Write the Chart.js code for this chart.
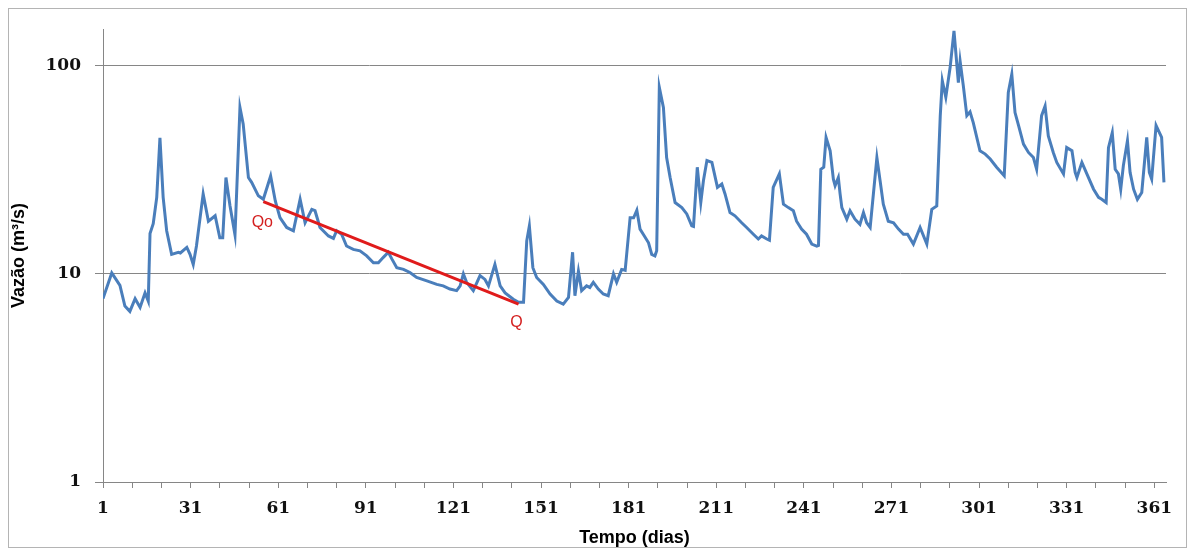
<!DOCTYPE html>
<html><head><meta charset="utf-8">
<script src="https://cdn.jsdelivr.net/npm/chart.js@4"></script>
<style>html,body{margin:0;padding:0;background:#fff}</style>
</head><body>
<canvas id="c" width="1195" height="549"></canvas>
<script>
const days = [1,4,6.8,8.5,10.2,12,13.7,15.4,16.5,17.1,18.2,19.4,20.5,21.6,22.8,24.5,26.8,27.5,29.7,30.8,31.9,33,35.3,37.1,39.4,41,42,43.1,44.5,46.2,47.9,49,50.8,51.9,54.2,55.9,58.4,60,61.6,63.9,66.2,68.5,70.2,72.5,73.6,75.3,78.2,79.9,81,82.7,84.4,86.7,89,91.3,93.6,95.3,97,98.7,99.9,101.6,103.9,106.1,108.4,111.9,115.3,117.5,119.8,122.1,123.3,124.4,125.5,127.8,130.1,131.8,133,135.2,137,138.7,141.5,143.3,145,146.1,147,148.2,149.5,151.8,154.1,156.4,158.6,160.4,161.8,162.6,163.8,164.9,166.6,167.7,168.9,170.6,172.3,174,175.8,176.9,178.6,179.8,181.5,182.7,183.8,184.9,186,187.8,188.9,190,190.6,191.5,192.9,194,195.2,196.9,199.2,200.9,202.6,203.2,204.5,205.7,206.6,207.8,209.5,211.4,212.9,214,215.7,217.4,219.7,221.4,223.7,225.4,226.5,228.3,229.2,230.5,232.6,234,235.7,237.4,238.5,240.2,241.9,243.7,245.4,246,246.8,247.8,248.6,250,251.1,251.7,252.8,253.4,254,255.7,256.8,258.5,260.2,261.4,262.5,263.7,266,267.1,268.2,269.9,271.7,273.4,275.1,276.5,278.5,280.8,283.1,284.8,286.5,287.7,288.4,289.6,291.1,292.4,293.9,294.5,295.6,296.8,297.9,299,301.3,303.1,304.8,307,309.6,311,312.2,313.3,314.5,316.2,317.9,319.6,320.7,322.4,323.6,324.7,326.4,327.6,329.9,331,332.8,333.9,334.5,336.2,337.9,340.2,341.9,343,344.5,345.3,346.6,347.6,348.7,349.5,350.4,351.8,352.7,353.9,355.2,356.7,358.4,359.3,360.1,361.6,363.5,364.3];
const flow = [7.6,10.1,8.8,7.0,6.6,7.6,6.9,8.1,7.4,15.6,17.4,23.3,45,23.3,16.1,12.4,12.7,12.6,13.4,12.4,11.1,13.6,24.2,17.9,19.0,14.9,14.9,29,21.2,15.4,63,52.5,29,27.5,23.7,22.8,29.5,22.4,18.6,16.7,16.1,22.8,17.6,20.4,20.1,16.7,15.2,14.8,16.1,15.5,13.6,13.1,12.9,12.2,11.3,11.3,12.0,12.7,11.8,10.7,10.5,10.15,9.6,9.25,8.9,8.75,8.45,8.3,8.75,10.0,9.1,8.3,9.8,9.4,8.75,11.1,8.75,8.1,7.55,7.3,7.3,14.4,17.0,10.7,9.6,8.9,8.0,7.4,7.15,7.7,12.7,7.85,10.3,8.3,8.75,8.6,9.1,8.45,8.0,7.85,10.0,9.1,10.5,10.4,18.6,18.6,20.2,16.4,15.5,14.1,12.4,12.2,12.9,78.7,63,36.2,29,22.0,20.8,19.4,17.0,16.9,32.5,22.0,28,35,34.3,26,27,24.2,19.7,19.0,17.6,16.7,15.5,14.7,15.2,14.7,14.5,26,30.2,21.6,20.8,20.1,17.9,16.4,15.5,13.9,13.6,13.7,31.8,32.5,45.2,39,28.5,26.5,29,24.2,20.8,18.3,20.1,18.3,17.3,19.7,17.6,16.7,36.2,28,21.6,17.9,17.6,16.4,15.5,15.5,13.9,16.7,13.9,20.4,21.2,57.5,84.6,70.5,98.7,147,83,105,80,57.5,60,53.3,39,37.6,35.6,32.5,29.6,74.4,91,59.5,51.6,42,38.3,36.2,31.8,57.5,64,46,38.3,34.3,30.2,40.4,39,30.7,29,34.3,30.2,25.5,23.3,22.8,22,40.4,47.7,31.8,30.2,25.5,33.1,43.6,30.7,25.5,22.8,24.6,45.2,30.7,28.5,51.6,45.2,27.5];
const recessionDays = [55.9, 143.3];
const recessionFlow = [22.2, 7.15];
const recessionLabels = ['Qo', 'Q'];
const xTickValues = [1,11,21,31,41,51,61,71,81,91,101,111,121,131,141,151,161,171,181,191,201,211,221,231,241,251,261,271,281,291,301,311,321,331,341,351,361];
const xLabelValues = [1,31,61,91,121,151,181,211,241,271,301,331,361];
const yTickValues = [1,10,100];
const yTitle = 'Vazão (m³/s)';
const xTitle = 'Tempo (dias)';

const mainPoints = days.map((d,i)=>({x:d, y:flow[i]}));
const recPoints = recessionDays.map((d,i)=>({x:d, y:recessionFlow[i]}));

const framePlugin = {
  id:'frame',
  beforeDraw(chart){
    const ctx = chart.ctx;
    ctx.save();
    ctx.fillStyle = '#fff';
    ctx.fillRect(0,0,chart.width,chart.height);
    ctx.strokeStyle = '#b4b4b4';
    ctx.lineWidth = 1;
    ctx.strokeRect(8.5,8.5,chart.width-17,chart.height-10);
    ctx.restore();
  }
};
const labelOffsets = [{dx:-1,dy:21},{dx:-2,dy:18}];
const qLabelPlugin = {
  id:'qlabels',
  afterDatasetsDraw(chart){
    const ctx = chart.ctx;
    const meta = chart.getDatasetMeta(1);
    ctx.save();
    ctx.fillStyle = '#d42020';
    ctx.font = '16px "Liberation Sans", sans-serif';
    ctx.textAlign = 'center';
    ctx.textBaseline = 'middle';
    meta.data.forEach((pt,i)=>{
      ctx.fillText(recessionLabels[i], pt.x + labelOffsets[i].dx, pt.y + labelOffsets[i].dy);
    });
    ctx.restore();
  }
};

new Chart(document.getElementById('c'), {
  type:'line',
  data:{
    datasets:[
      {data: mainPoints, borderColor:'#4a7ebb', borderWidth:3, pointRadius:0, tension:0, fill:false, order:2},
      {data: recPoints, borderColor:'#e01b1b', borderWidth:3, pointRadius:0, tension:0, fill:false, order:1}
    ]
  },
  options:{
    responsive:false,
    animation:false,
    events:[],
    layout:{padding:{left:8, right:29, top:29, bottom:0}},
    plugins:{legend:{display:false}, tooltip:{enabled:false}},
    scales:{
      x:{
        type:'linear', min:1, max:365,
        afterBuildTicks(scale){ scale.ticks = xTickValues.map(v=>({value:v})); },
        afterFit(scale){ scale.height = 67; },
        grid:{drawOnChartArea:false, drawTicks:true, tickLength:6, color:'#868686'},
        border:{color:'#868686', width:1},
        ticks:{
          autoSkip:false, maxRotation:0, padding:10, color:'#111',
          font:{family:'"DejaVu Serif", serif', size:17, weight:'bold'},
          callback(v){ return xLabelValues.includes(v) ? String(v) : ''; }
        },
        title:{display:true, text:xTitle, color:'#000', padding:{top:0,bottom:0},
          font:{family:'"Liberation Sans", sans-serif', size:18, weight:'bold'}}
      },
      y:{
        type:'logarithmic', min:1, max:150,
        afterBuildTicks(scale){ scale.ticks = yTickValues.map(v=>({value:v})); },
        afterFit(scale){ scale.width = 95; },
        grid:{color:'#868686', tickLength:8},
        border:{color:'#868686', width:1},
        ticks:{
          padding:14, color:'#111',
          font:{family:'"DejaVu Serif", serif', size:17, weight:'bold'},
          callback(v){ return String(v); }
        },
        title:{display:true, text:yTitle, color:'#000', padding:{top:0,bottom:0},
          font:{family:'"Liberation Sans", sans-serif', size:18, weight:'bold'}}
      }
    }
  },
  plugins:[framePlugin, qLabelPlugin]
});
</script>
</body></html>
